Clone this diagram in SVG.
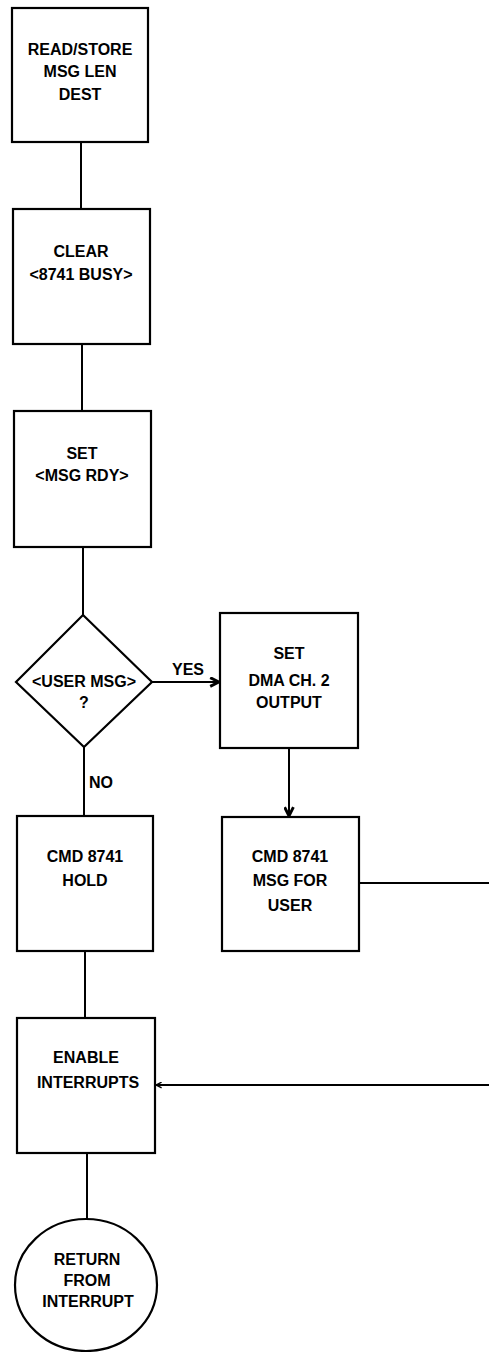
<svg xmlns="http://www.w3.org/2000/svg" width="489" height="1352" viewBox="0 0 489 1352">
<style>
.b{fill:#fff;stroke:#000;stroke-width:2.2}
.c{fill:none;stroke:#000;stroke-width:2}
text{font-family:"Liberation Sans",Arial,sans-serif;font-weight:bold;font-size:16px;fill:#000;text-anchor:middle}
.l{text-anchor:start}
</style>
<defs>
<marker id="ah" viewBox="0 0 10 10" refX="9" refY="5" markerWidth="11" markerHeight="11" markerUnits="userSpaceOnUse" orient="auto">
<path d="M1,1 L9,5 L1,9" fill="none" stroke="#000" stroke-width="2.6"/>
</marker>
<marker id="ah2" viewBox="0 0 10 10" refX="9" refY="5" markerWidth="7" markerHeight="7" markerUnits="userSpaceOnUse" orient="auto">
<path d="M1,1 L9,5 L1,9" fill="none" stroke="#000" stroke-width="2"/>
</marker>
</defs>
<rect width="489" height="1352" fill="#fff"/>
<g id="connectors">
<line class="c" x1="81" y1="142" x2="81" y2="209"/>
<line class="c" x1="82" y1="344" x2="82" y2="411"/>
<line class="c" x1="83" y1="547" x2="83" y2="615"/>
<line class="c" x1="152" y1="682" x2="219" y2="682" marker-end="url(#ah)"/>
<text class="l" x="172" y="675">YES</text>
<line class="c" x1="289" y1="748" x2="289" y2="816" marker-end="url(#ah)"/>
<line class="c" x1="84" y1="747" x2="84" y2="816"/>
<text class="l" x="89" y="788">NO</text>
<line class="c" x1="359" y1="883" x2="489" y2="883"/>
<line class="c" x1="85" y1="951" x2="85" y2="1018"/>
<line class="c" x1="489" y1="1085" x2="156" y2="1085" marker-end="url(#ah2)"/>
<line class="c" x1="87" y1="1153" x2="87" y2="1219"/>
</g>
<g id="n1">
<rect class="b" x="12" y="8" width="136" height="134"/>
<text x="80" y="55">READ/STORE</text>
<text x="80" y="77">MSG LEN</text>
<text x="80" y="100">DEST</text>
</g>
<g id="n2">
<rect class="b" x="13" y="209" width="137" height="135"/>
<text x="81" y="257">CLEAR</text>
<text x="81" y="280">&lt;8741 BUSY&gt;</text>
</g>
<g id="n3">
<rect class="b" x="14" y="411" width="137" height="136"/>
<text x="82" y="459">SET</text>
<text x="82" y="481">&lt;MSG RDY&gt;</text>
</g>
<g id="n4">
<polygon class="b" points="83,615 152,682 84,747 16,682"/>
<text x="84" y="687">&lt;USER MSG&gt;</text>
<text x="84" y="708">?</text>
</g>
<g id="n5">
<rect class="b" x="220" y="613" width="138" height="135"/>
<text x="289" y="659">SET</text>
<text x="289" y="686">DMA CH. 2</text>
<text x="289" y="708">OUTPUT</text>
</g>
<g id="n6">
<rect class="b" x="17" y="816" width="136" height="135"/>
<text x="85" y="862">CMD 8741</text>
<text x="85" y="886">HOLD</text>
</g>
<g id="n7">
<rect class="b" x="222" y="817" width="137" height="134"/>
<text x="290" y="862">CMD 8741</text>
<text x="290" y="886">MSG FOR</text>
<text x="290" y="911">USER</text>
</g>
<g id="n8">
<rect class="b" x="17" y="1018" width="138" height="135"/>
<text x="86" y="1063">ENABLE</text>
<text x="88" y="1088">INTERRUPTS</text>
</g>
<g id="n9">
<ellipse class="b" cx="86" cy="1285" rx="71" ry="66"/>
<text x="87" y="1265">RETURN</text>
<text x="87" y="1286">FROM</text>
<text x="88" y="1307">INTERRUPT</text>
</g>
</svg>
